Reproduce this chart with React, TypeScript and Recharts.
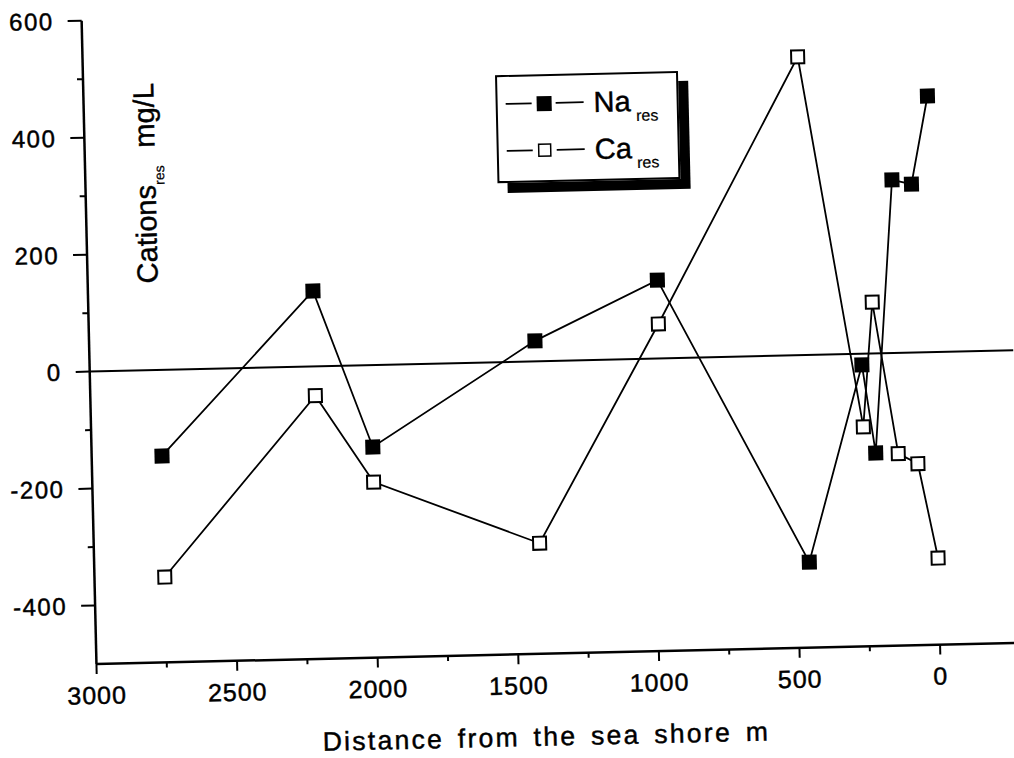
import React from "react"
import { LineChart, Line, XAxis, YAxis, ReferenceLine, Label } from "recharts"

// distance from the sea shore (m), shared by both series
const distance = [2750, 2200, 2000, 1415, 975, 458, 255, 213, 133, 64, 0]
// residual cations, mg/L
const naRes = [-147, 129, -140, 35, 134, -354, -19, -170, 296, 288, 438]
const caRes = [-354, -50, -200, -311, 59, 510, -125, 88, -172, -190, -352]

const xTicks = [3000, 2750, 2500, 2250, 2000, 1750, 1500, 1250, 1000, 750, 500, 250, 0]
const yTicks = [-400, -300, -200, -100, 0, 100, 200, 300, 400, 500, 600]

const series = [
  { key: "na", name: "Na", sub: "res", filled: true },
  { key: "ca", name: "Ca", sub: "res", filled: false },
]

const rows = distance.map((d, i) => ({ d, na: naRes[i], ca: caRes[i] }))

const FONT = "'Liberation Sans', Arial, sans-serif"
// scanned text is a bit heavier than plain regular
const ink = { fill: "#000", stroke: "#000", strokeWidth: 0.45 }

const YTick = (props: any) => {
  const { x, y, payload } = props
  const major = payload.value % 200 === 0
  return (
    <g>
      <line x1={x} x2={x - (major ? 14 : 6)} y1={y} y2={y} stroke="#000" strokeWidth={2} />
      {major && (
        <text x={x - 28} y={y + 8.5} textAnchor="end" fontSize={24} fontFamily={FONT} letterSpacing={1.5} {...ink}>
          {payload.value}
        </text>
      )}
    </g>
  )
}

const XTick = (props: any) => {
  const { x, y, payload } = props
  const major = payload.value % 500 === 0
  return (
    <g>
      <line x1={x} x2={x} y1={y} y2={y + (major ? 10 : 5)} stroke="#000" strokeWidth={2} />
      {major && (
        <text x={x} y={y + 40} textAnchor="middle" fontSize={25} fontFamily={FONT} letterSpacing={1} {...ink}>
          {payload.value}
        </text>
      )}
    </g>
  )
}

const square = (filled: boolean, id: string) => (p: any) => {
  if (p.cx == null || p.cy == null) return <g key={`${id}-${p.index}`} />
  const s = filled ? 15 : 13
  return (
    <rect
      key={`${id}-${p.index}`}
      x={p.cx - s / 2}
      y={p.cy - s / 2}
      width={s}
      height={s}
      fill={filled ? "#000" : "#fff"}
      stroke="#000"
      strokeWidth={filled ? 0 : 2}
    />
  )
}

const XTitle = (props: any) => {
  const { viewBox } = props
  return (
    <text
      x={viewBox.x + viewBox.width * 0.485}
      y={viewBox.y + 92}
      textAnchor="middle"
      fontSize={26.5}
      fontFamily={FONT}
      letterSpacing={2.3}
      wordSpacing={4}
      {...ink}
    >
      Distance from the sea shore m
    </text>
  )
}

const YTitle = (props: any) => {
  const { viewBox } = props
  const px = viewBox.x + viewBox.width + 70
  const py = viewBox.y + 164
  return (
    <text
      x={px}
      y={py}
      transform={`rotate(-90, ${px}, ${py})`}
      textAnchor="middle"
      fontSize={29}
      fontFamily={FONT}
      {...ink}
    >
      <tspan>Cations</tspan>
      <tspan fontSize={14} dy={9} strokeWidth={0.2}>res</tspan>
      <tspan dy={-9} dx={18}>mg/L</tspan>
    </text>
  )
}

function LegendBox() {
  return (
    <div
      style={{
        position: "absolute",
        left: 502,
        top: 75,
        width: 179,
        height: 104,
        border: "2px solid #000",
        boxShadow: "10px 10px 0 #000",
        background: "#fff",
      }}
    >
      <svg width={179} height={104}>
        {series.map((s, i) => {
          const cy = 27 + i * 47
          return (
            <g key={s.key}>
              <line x1={8} x2={34} y1={cy} y2={cy} stroke="#000" strokeWidth={1.8} />
              <line x1={58} x2={86} y1={cy} y2={cy} stroke="#000" strokeWidth={1.8} />
              {s.filled ? (
                <rect x={39} y={cy - 7} width={15} height={15} fill="#000" />
              ) : (
                <rect x={40} y={cy - 6} width={12} height={12} fill="#fff" stroke="#000" strokeWidth={1.5} />
              )}
              <text x={96} y={cy + 10} fontSize={29} fontFamily={FONT} {...ink}>
                <tspan>{s.name}</tspan>
                <tspan fontSize={16} dx={5} dy={10} strokeWidth={0.2}>{s.sub}</tspan>
              </text>
            </g>
          )
        })}
      </svg>
    </div>
  )
}

export default function App() {
  return (
    <div style={{ position: "absolute", left: 0, top: 0, width: 1014, height: 758, overflow: "hidden", background: "#fff" }}>
      <div
        style={{
          position: "absolute",
          left: 0,
          top: 0,
          width: 1014,
          height: 758,
          transform: "rotate(-1.32deg)",
          transformOrigin: "507px 379px",
        }}
      >
        <LineChart width={1014} height={758} data={rows} margin={{ top: 11, right: 0, left: 0, bottom: 43.5 }}>
          <XAxis
            dataKey="d"
            type="number"
            domain={[-285, 3000]}
            reversed
            ticks={xTicks}
            interval={0}
            tick={<XTick />}
            tickLine={false}
            tickSize={0}
            tickMargin={0}
            height={60}
            axisLine={{ stroke: "#000", strokeWidth: 2.5 }}
          >
            <Label content={<XTitle />} />
          </XAxis>
          <YAxis
            type="number"
            domain={[-500, 600]}
            ticks={yTicks}
            interval={0}
            tick={<YTick />}
            tickLine={false}
            tickSize={0}
            tickMargin={0}
            width={90}
            axisLine={{ stroke: "#000", strokeWidth: 2.5 }}
          >
            <Label content={<YTitle />} />
          </YAxis>
          <ReferenceLine y={0} stroke="#000" strokeWidth={2} />
          <Line
            dataKey="na"
            type="linear"
            stroke="#000"
            strokeWidth={1.8}
            dot={square(true, "na")}
            activeDot={false}
            isAnimationActive={false}
          />
          <Line
            dataKey="ca"
            type="linear"
            stroke="#000"
            strokeWidth={1.8}
            dot={square(false, "ca")}
            activeDot={false}
            isAnimationActive={false}
          />
        </LineChart>
        <LegendBox />
      </div>
    </div>
  )
}
